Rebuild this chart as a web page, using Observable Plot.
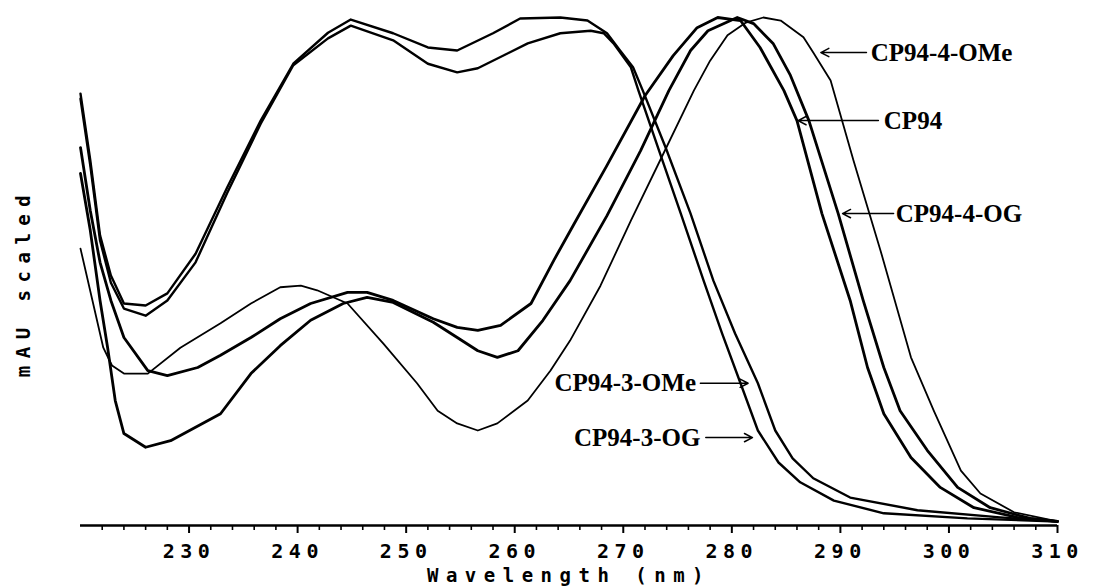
<!DOCTYPE html>
<html><head><meta charset="utf-8">
<script src="https://cdn.jsdelivr.net/npm/d3@7"></script>
<script src="https://cdn.jsdelivr.net/npm/@observablehq/plot@0.6"></script>
<style>
html,body{margin:0;padding:0;background:#fff;}
#chart svg{display:block;}
</style>
</head><body><div id="chart"></div>
<script>
// ---- Data (wavelength in nm, absorbance scaled 0..100) ----
const seriesNames = ["CP94-3-OMe", "CP94-3-OG", "CP94", "CP94-4-OG", "CP94-4-OMe"];

const nm_3OMe = [220.0,220.9,221.8,222.8,224.0,226.0,228.0,230.6,233.5,236.6,239.6,242.8,244.9,248.8,252.0,254.7,258.0,260.5,264.2,266.7,268.5,269.7,270.9,271.8,273.9,276.2,278.3,280.3,282.4,284.0,285.6,287.5,290.9,297.1,304.7,310.0];
const val_3OMe = [85.0,71.9,57.1,49.2,43.7,43.3,45.7,53.5,66.5,79.7,90.9,97.0,99.6,96.9,94.1,93.5,96.9,99.8,100,99.4,96.9,93.5,90.2,85.6,74.4,61.4,48.2,37.8,28.0,18.7,13.2,9.3,5.5,3.0,1.6,0.8];

const nm_3OG = [220.0,220.9,221.8,222.8,224.0,226.0,228.0,230.6,233.5,236.6,239.6,242.8,244.9,248.8,252.0,254.7,256.6,261.2,264.2,267.0,268.2,269.1,270.7,271.4,273.2,275.3,277.4,279.1,280.8,282.4,284.3,286.3,289.4,294.0,301.7,310.0];
const val_3OG = [84.0,70.9,56.1,47.8,42.7,41.3,44.3,51.8,65.4,79.1,90.6,95.9,98.4,95.5,90.9,89.2,90.0,94.9,96.9,97.4,96.9,94.9,90.2,85.6,74.4,61.4,48.2,37.8,28.0,18.7,12.4,8.5,4.9,2.4,1.4,0.8];

const nm_CP94 = [220.0,220.9,221.8,222.8,224.0,226.2,228.0,230.8,232.9,235.7,238.4,241.2,244.6,246.4,248.8,252.5,254.7,256.6,258.7,261.5,263.6,265.4,268.5,272.0,274.6,276.8,278.7,280.8,282.6,284.8,286.0,288.3,290.9,292.5,294.0,296.5,299.2,302.3,306.3,310.0];
const val_CP94 = [74.4,62.0,51.8,44.3,37.0,30.5,29.5,31.1,33.5,37.0,40.7,43.7,45.9,45.9,44.3,40.7,39.0,38.4,39.4,43.7,52.2,59.1,70.9,84.6,92.5,98.0,100,99.4,94.1,85.6,79.7,61.4,44.3,31.1,22.0,13.4,7.5,3.5,1.6,0.8];

const nm_4OG = [220.0,220.9,221.8,222.5,223.2,224.0,226.0,228.3,232.9,235.7,238.4,241.2,244.2,246.4,248.8,252.5,254.7,256.6,258.4,260.3,262.6,265.1,268.5,271.6,274.2,276.2,277.8,280.5,282.0,283.8,285.4,287.1,289.8,292.1,294.0,295.5,298.0,300.8,303.8,307.5,310.0];
const val_4OG = [69.3,58.1,44.3,35.0,24.6,18.1,15.4,16.7,22.0,29.9,35.4,40.4,43.7,44.9,43.9,40.0,37.0,34.4,33.1,34.4,40.4,48.2,61.0,73.8,85.6,93.5,97.4,100,98.8,94.9,88.6,79.7,61.4,44.3,31.1,22.6,14.8,7.5,3.5,1.4,0.8];

const nm_4OMe = [220.0,221.1,222.1,222.9,224.0,226.2,229.2,232.9,235.7,238.4,240.3,241.8,244.6,247.9,251.0,252.9,254.7,256.6,258.4,261.2,263.3,265.1,267.9,270.7,273.4,276.5,278.0,279.6,281.3,282.9,284.5,286.6,287.5,289.1,291.2,293.7,296.5,298.6,301.1,302.9,306.0,310.0];
const val_4OMe = [54.5,44.3,35.0,31.5,29.9,29.9,35.0,39.8,43.7,46.9,47.2,46.3,43.7,35.8,28.0,22.6,20.1,18.7,20.1,24.6,30.5,36.4,47.2,60.0,71.9,85.6,91.5,96.5,99.0,100,99.4,96.1,93.1,87.6,71.9,54.1,33.1,22.6,10.8,6.3,2.6,0.8];

const majorTicks = [230,240,250,260,270,280,290,300,310];
const minorTicks = d3.range(222, 310, 2).filter(t => t % 10 !== 0);

// Label annotations: text anchor point and arrow (from -> to), in data units
const labelText   = ["CP94-4-OMe", "CP94", "CP94-4-OG", "CP94-3-OMe", "CP94-3-OG"];
const labelX      = [292.8, 294.0, 295.1, 276.7, 277.1];
const labelY      = [93.1, 79.7, 61.4, 28.0, 17.3];
const labelAnchor = ["start", "start", "start", "end", "end"];
const arrowX1     = [292.4, 293.5, 294.9, 277.1, 277.6];
const arrowX2     = [288.2, 286.1, 290.2, 281.5, 281.9];

// ---- Build tables ----
const pack = (name, xs, ys) => xs.map((x, i) => ({series: name, nm: x, val: ys[i]}));
const lines = [
  {data: pack(seriesNames[0], nm_3OMe, val_3OMe), w: 2.4},
  {data: pack(seriesNames[1], nm_3OG,  val_3OG),  w: 2.4},
  {data: pack(seriesNames[2], nm_CP94, val_CP94), w: 2.8},
  {data: pack(seriesNames[3], nm_4OG,  val_4OG),  w: 2.8},
  {data: pack(seriesNames[4], nm_4OMe, val_4OMe), w: 1.8}
];
const labels = labelText.map((t, i) => ({t, x: labelX[i], y: labelY[i], a: labelAnchor[i], x1: arrowX1[i], x2: arrowX2[i]}));

const mono = "'DejaVu Sans Mono', 'Liberation Mono', monospace";
const serif = "'Liberation Serif', 'Times New Roman', serif";

const plot = Plot.plot({
  width: 1099,
  height: 586,
  marginLeft: 80,
  marginRight: 42,
  marginTop: 17,
  marginBottom: 61,
  style: {background: "#fff", color: "#000"},
  x: {domain: [220, 310], axis: null},
  y: {domain: [0, 100], axis: null},
  marks: [
    ...lines.map(l => Plot.line(l.data, {x: "nm", y: "val", stroke: "#000", strokeWidth: l.w, strokeLinejoin: "round", curve: "linear"})),
    Plot.ruleY([0], {stroke: "#000", strokeWidth: 2.5}),
    Plot.axisX({ticks: minorTicks, tickSize: 5, tickFormat: () => "", strokeWidth: 1.6, label: null}),
    Plot.axisX({ticks: majorTicks, tickSize: 8, tickPadding: 10, strokeWidth: 2, label: null,
      fontFamily: mono, fontSize: 20, fontWeight: "bold", tickFormat: d => String(d)}),
    Plot.text(["Wavelength (nm)"], {text: d => d, frameAnchor: "bottom", textAnchor: "middle", lineAnchor: "middle", dy: 50, fontFamily: mono, fontSize: 19, fontWeight: "bold", fill: "#000"}),
    Plot.text(["mAU scaled"], {text: d => d, frameAnchor: "left", textAnchor: "middle", lineAnchor: "middle", rotate: -90, dx: -57, dy: 11, fontFamily: mono, fontSize: 19, fontWeight: "bold", fill: "#000"}),
    Plot.arrow(labels, {x1: "x1", y1: "y", x2: "x2", y2: "y", stroke: "#000", strokeWidth: 1.5, headLength: 9, headAngle: 55}),
    Plot.text(labels.filter(d => d.a === "start"), {x: "x", y: "y", text: "t", textAnchor: "start", fontFamily: serif, fontSize: 25, fontWeight: "bold", fill: "#000"}),
    Plot.text(labels.filter(d => d.a === "end"), {x: "x", y: "y", text: "t", textAnchor: "end", fontFamily: serif, fontSize: 25, fontWeight: "bold", fill: "#000"})
  ]
});

document.getElementById("chart").appendChild(plot);
const svg = d3.select(plot);
svg.selectAll('g[aria-label="x-axis tick label"] text').style("letter-spacing", "5.5px");
svg.selectAll('g[aria-label="text"] text').filter(function() {
  const t = this.textContent; return t === "Wavelength (nm)" || t === "mAU scaled";
}).style("letter-spacing", "7.5px");
</script>
</body></html>
